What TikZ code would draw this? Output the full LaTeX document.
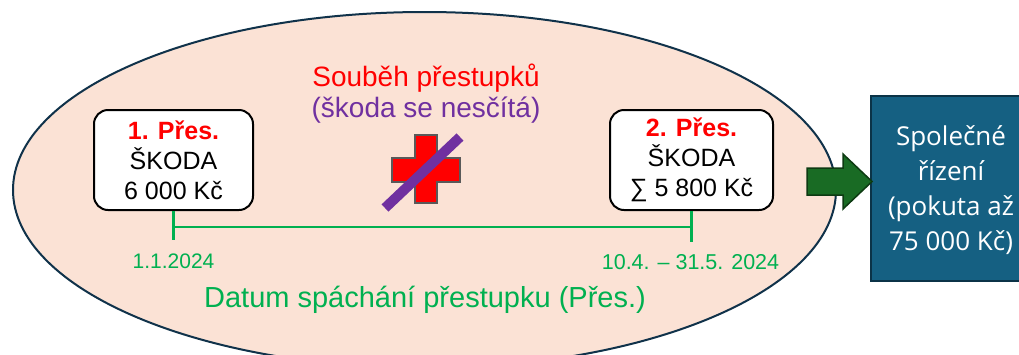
\documentclass[tikz,border=0pt]{standalone}
\usepackage{fontspec}
\setmainfont{Liberation Sans}
\newfontfamily\boxfont{Open Sans}
\definecolor{peach}{HTML}{FBE2D5}
\definecolor{ellborder}{HTML}{10324A}
\definecolor{pgreen}{HTML}{00B050}
\definecolor{pred}{HTML}{FF0000}
\definecolor{ppurple}{HTML}{7030A0}
\definecolor{tealbox}{HTML}{156082}
\definecolor{tealborder}{HTML}{0B3347}
\definecolor{arrgreen}{HTML}{196B24}
\definecolor{arrborder}{HTML}{0D3A12}
\begin{document}
\begin{tikzpicture}[x=1pt,y=-1pt,
  pres/.style={draw=black,line width=2pt,fill=white,rounded corners=14pt,minimum width=159pt,minimum height=100pt,inner sep=0pt,align=center,font=\fontsize{25}{30}\selectfont},
  gline/.style={draw=pgreen,line width=2.5pt},
  gtext/.style={text=pgreen,inner sep=0pt}
]
\useasboundingbox (0,0) rectangle (1019,354);
\begin{scope}
\clip (0,0) rectangle (1019,354);
% ellipse
\draw[fill=peach,draw=ellborder,line width=2pt] (424.5,190) ellipse [x radius=411.5pt, y radius=178pt];
% blue box
\node[draw=tealborder,line width=2pt,fill=tealbox,minimum width=164pt,minimum height=185pt,anchor=north west,inner sep=0pt] (rizeni) at (870,95) {};
\end{scope}
\node[text=white,align=center,font=\boxfont\fontsize{26}{35}\selectfont,inner sep=0pt] (rtext) at (951,190) {Společné\\řízení\\(pokuta až\\75 000 Kč)};
% arrow
\draw[fill=arrgreen,draw=arrborder,line width=1.5pt,line join=miter]
  (807,168) -- (843,168) -- (843,154) -- (872,181.5) -- (843,209) -- (843,195) -- (807,195) -- cycle;
% title
\node[text=pred,inner sep=0pt,font=\fontsize{28}{32}\selectfont] (soubeh) at (426,78) {Souběh přestupků};
\node[text=ppurple,inner sep=0pt,font=\fontsize{28}{32}\selectfont] (nescita) at (426,110) {(škoda se nesčítá)};
% cross
\draw[fill=pred,draw=black!65,line width=1.2pt]
  (415,135) -- (437,135) -- (437,158) -- (460,158) -- (460,182) -- (437,182) -- (437,203) -- (415,203) -- (415,182) -- (392,182) -- (392,158) -- (415,158) -- cycle;
\draw[draw=ppurple,line width=10pt] (385,208) -- (460,137);
% boxes
\node[pres] (p1) at (173.5,160) {\textcolor{pred}{\textbf{1. Přes.}}\\ŠKODA\\6 000 Kč};
\node[pres,minimum width=163pt] (p2) at (691.5,160) {\textcolor{pred}{\textbf{2. Přes.}}\\ŠKODA\\∑ 5 800 Kč};
% timeline
\coordinate (t1) at (p1.south |- 0,240);
\coordinate (t2) at (p2.south |- 0,242);
\coordinate (h1) at (p1.south |- 0,227);
\coordinate (h2) at (p2.south |- 0,227);
\draw[gline] (p1.south) -- (t1);
\draw[gline] (p2.south) -- (t2);
\draw[gline] (h1) -- (h2);
\node[gtext,font=\fontsize{21}{25}\selectfont] (d1) at (173.5,261) {1.1.2024};
\node[gtext,font=\fontsize{21.5}{25}\selectfont] (d2) at (690.5,262) {10.4. – 31.5. 2024};
\node[gtext,font=\fontsize{29}{32}\selectfont] (datum) at (425,300) {Datum spáchání přestupku (Přes.)};
\end{tikzpicture}
\end{document}
